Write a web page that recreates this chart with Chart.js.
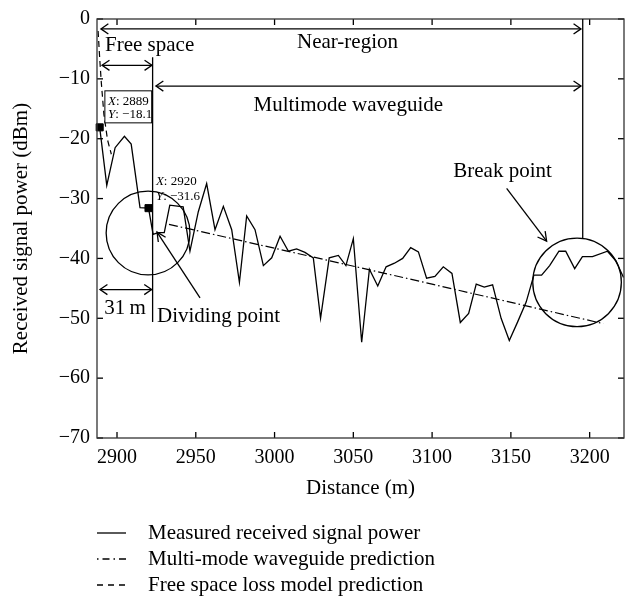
<!DOCTYPE html>
<html>
<head>
<meta charset="utf-8">
<script src="https://cdn.jsdelivr.net/npm/chart.js@4.4.1/dist/chart.umd.min.js"></script>
<style>
  html, body { margin: 0; padding: 0; background: #fff; }
  #wrap { width: 636px; height: 609px; }
</style>
</head>
<body>
<div id="wrap"><canvas id="chart" width="636" height="609"></canvas></div>
<script>
// ----- Data -----
const measuredX = [2889, 2893.5, 2898.8, 2904.7, 2909.0, 2914.6, 2920, 2922.9, 2926.1, 2930.0,
  2933.5, 2942.0, 2946.3, 2951.6, 2956.9, 2962.2, 2967.5, 2972.8, 2977.7, 2982.3,
  2987.6, 2992.9, 2998.2, 3003.5, 3008.8, 3014.0, 3019.3, 3024.6, 3029.2, 3034.7,
  3040.5, 3045.3, 3050.0, 3055.3, 3060.2, 3065.5, 3070.8, 3076.1, 3081.3, 3086.4,
  3091.3, 3096.5, 3101.8, 3107.1, 3112.6, 3117.9, 3123.2, 3128.0, 3133.1, 3138.4,
  3143.8, 3149.0, 3154.3, 3159.7, 3164.6, 3169.5, 3174.6, 3180.5, 3184.8, 3190.5,
  3195.4, 3201.8, 3211.3, 3216.6, 3221.5];
const measuredY = [-18.1, -27.8, -21.5, -19.6, -20.9, -31.5, -31.6, -36.0, -35.7, -35.7,
  -31.1, -31.4, -38.8, -32.2, -27.5, -35.2, -31.3, -35.2, -44.0, -32.9,
  -35.2, -41.2, -39.9, -36.3, -38.8, -38.4, -39.0, -39.9, -50.0, -39.9,
  -39.5, -41.2, -36.7, -54.0, -41.8, -44.6, -41.4, -40.8, -40.0, -38.2,
  -38.9, -43.3, -43.0, -41.4, -42.5, -50.7, -49.2, -44.3, -44.8, -44.4,
  -50.0, -53.7, -50.6, -47.3, -42.8, -42.8, -41.2, -38.8, -38.8, -41.7,
  -39.7, -39.7, -38.8, -40.4, -43.2];

const waveguideX = [2933, 3000, 3100, 3208.7];
const waveguideY = [-34.3, -38.3, -44.3, -50.9];

const freeSpaceX = [2888.0, 2889.0, 2890.0, 2891.7, 2894.0, 2896.4];
const freeSpaceY = [-2.0, -6.5, -10.5, -16.0, -20.2, -22.6];

// data tips (MATLAB style markers)
const tipX = [2889, 2920];
const tipY = [-18.1, -31.6];

const xTicks = [2900, 2950, 3000, 3050, 3100, 3150, 3200];
const yTicks = [-70, -60, -50, -40, -30, -20, -10, 0];

const seriesLabels = [
  'Measured received signal power',
  'Multi-mode waveguide prediction',
  'Free space loss model prediction'
];

const SERIF = "'Liberation Serif', 'DejaVu Serif', serif";

function pts(xs, ys) {
  return xs.map((x, i) => ({ x: x, y: ys[i] }));
}
function minus(v) {
  return String(v).replace('-', '\u2212');
}

// ----- drawing helpers -----
function line(ctx, x1, y1, x2, y2) {
  ctx.beginPath();
  ctx.moveTo(x1, y1);
  ctx.lineTo(x2, y2);
  ctx.stroke();
}
function arrowHead(ctx, x, y, fx, fy, len, spread) {
  const a = Math.atan2(fy - y, fx - x);
  ctx.beginPath();
  ctx.moveTo(x + len * Math.cos(a + spread), y + len * Math.sin(a + spread));
  ctx.lineTo(x, y);
  ctx.lineTo(x + len * Math.cos(a - spread), y + len * Math.sin(a - spread));
  ctx.stroke();
}
function doubleArrow(ctx, x1, x2, y) {
  line(ctx, x1, y, x2, y);
  arrowHead(ctx, x1, y, x2, y, 9, 0.6);
  arrowHead(ctx, x2, y, x1, y, 9, 0.6);
}
function circle(ctx, cx, cy, r) {
  ctx.beginPath();
  ctx.arc(cx, cy, r, 0, Math.PI * 2);
  ctx.stroke();
}
// "X: 2889" with italic X
function tipText(ctx, x, y, letter, value) {
  ctx.font = `italic 13px ${SERIF}`;
  ctx.fillText(letter, x, y);
  const w = ctx.measureText(letter).width;
  ctx.font = `13px ${SERIF}`;
  ctx.fillText(': ' + value, x + w, y);
}

// box, inward ticks, annotations
const annotations = {
  id: 'annotations',
  afterDatasetsDraw(chart) {
    const { ctx, chartArea: a, scales: { x: xs, y: ys } } = chart;
    const X = v => xs.getPixelForValue(v);
    const Y = v => ys.getPixelForValue(v);
    ctx.save();
    ctx.strokeStyle = '#000';
    ctx.fillStyle = '#000';
    ctx.lineWidth = 1.3;
    ctx.setLineDash([]);

    // inward ticks on all four sides
    xTicks.forEach(v => {
      line(ctx, X(v), a.bottom, X(v), a.bottom - 6);
      line(ctx, X(v), a.top, X(v), a.top + 6);
    });
    yTicks.forEach(v => {
      line(ctx, a.left, Y(v), a.left + 6, Y(v));
      line(ctx, a.right, Y(v), a.right - 6, Y(v));
    });
    ctx.strokeStyle = '#333';
    ctx.strokeRect(a.left, a.top, a.right - a.left, a.bottom - a.top);
    ctx.strokeStyle = '#000';

    // region arrows
    doubleArrow(ctx, X(2889.8), X(3194.5), Y(-1.65));   // near-region
    doubleArrow(ctx, X(2890.5), X(2922.2), Y(-7.74));   // free space
    doubleArrow(ctx, X(2924.7), X(3194.5), Y(-11.2));   // multimode
    doubleArrow(ctx, X(2889.2), X(2922.0), Y(-45.2));   // 31 m

    // dividing line and break line
    line(ctx, X(2922.6), Y(-6.37), X(2922.6), Y(-50.6));
    line(ctx, X(3195.6), Y(0), X(3195.6), Y(-36.7));

    // circles
    circle(ctx, X(2919.7), Y(-35.75), Y(-42.75) - Y(-35.75));
    circle(ctx, X(3192.0), Y(-44.0), Y(-51.4) - Y(-44.0));

    // pointer arrows
    line(ctx, X(2952.7), Y(-46.6), X(2925.4), Y(-35.6));
    arrowHead(ctx, X(2925.4), Y(-35.6), X(2952.7), Y(-46.6), 10, 0.45);
    line(ctx, X(3147.3), Y(-28.3), X(3172.7), Y(-37.1));
    arrowHead(ctx, X(3172.7), Y(-37.1), X(3147.3), Y(-28.3), 10, 0.5);

    // labels
    ctx.font = `21px ${SERIF}`;
    ctx.textBaseline = 'middle';
    ctx.textAlign = 'center';
    ctx.fillText('Near-region', X(3046.3), Y(-4.0));
    ctx.fillText('Multimode waveguide', X(3046.8), Y(-14.5));
    ctx.fillText('31\u2009m', X(2905.1), Y(-48.4));
    ctx.fillText('Break point', X(3144.7), Y(-25.5));
    ctx.textAlign = 'left';
    ctx.fillText('Free space', X(2892.4), Y(-4.45));
    ctx.fillText('Dividing point', X(2925.4), Y(-49.75));

    // data tip box for the first marker
    const bx1 = X(2892.3), bx2 = X(2922.0), by1 = Y(-12.0), by2 = Y(-17.35);
    ctx.fillStyle = '#fff';
    ctx.fillRect(bx1, by1, bx2 - bx1, by2 - by1);
    ctx.lineWidth = 1;
    ctx.strokeRect(bx1, by1, bx2 - bx1, by2 - by1);
    ctx.fillStyle = '#000';
    tipText(ctx, X(2894.3), Y(-13.8), 'X', tipX[0]);
    tipText(ctx, X(2894.3), Y(-16.0), 'Y', minus(tipY[0]));
    tipText(ctx, X(2924.7), Y(-27.2), 'X', tipX[1]);
    tipText(ctx, X(2924.7), Y(-29.7), 'Y', minus(tipY[1]));
    ctx.restore();
  },
  afterDraw(chart) {
    // legend below the axes
    const ctx = chart.ctx;
    const rows = [533, 559, 585];
    ctx.save();
    ctx.strokeStyle = '#000';
    ctx.fillStyle = '#000';
    ctx.lineWidth = 1.3;
    ctx.font = `21px ${SERIF}`;
    ctx.textBaseline = 'middle';
    ctx.textAlign = 'left';
    chart.data.datasets.slice(0, 3).forEach((ds, i) => {
      ctx.setLineDash(ds.legendDash);
      line(ctx, 97, rows[i], 126, rows[i]);
      ctx.setLineDash([]);
      ctx.fillText(ds.label, 148, rows[i]);
    });
    ctx.restore();
  }
};

Chart.defaults.font.family = SERIF;
Chart.defaults.color = '#000';

new Chart(document.getElementById('chart'), {
  type: 'scatter',
  data: {
    datasets: [
      {
        label: seriesLabels[0],
        data: pts(measuredX, measuredY),
        showLine: true,
        borderColor: '#000',
        borderWidth: 1.3,
        pointRadius: 0,
        tension: 0,
        legendDash: []
      },
      {
        label: seriesLabels[1],
        data: pts(waveguideX, waveguideY),
        showLine: true,
        borderColor: '#000',
        borderWidth: 1.2,
        borderDash: [9, 3, 1.5, 3],
        pointRadius: 0,
        legendDash: [1.5, 4, 7, 4]
      },
      {
        label: seriesLabels[2],
        data: pts(freeSpaceX, freeSpaceY),
        showLine: true,
        borderColor: '#000',
        borderWidth: 1.2,
        borderDash: [6, 4],
        pointRadius: 0,
        legendDash: [6, 5]
      },
      {
        label: 'Data tips',
        data: pts(tipX, tipY),
        showLine: false,
        pointStyle: 'rect',
        pointRadius: 5,
        backgroundColor: '#000',
        borderColor: '#000',
        clip: false
      }
    ]
  },
  options: {
    responsive: false,
    animation: false,
    devicePixelRatio: 1,
    layout: { padding: { left: 0, right: 12, top: 13, bottom: 105 } },
    plugins: { legend: { display: false }, tooltip: { enabled: false } },
    scales: {
      x: {
        type: 'linear',
        min: 2887.3,
        max: 3221.8,
        grid: { display: false, drawTicks: false },
        border: { display: false },
        afterBuildTicks: s => { s.ticks = xTicks.map(v => ({ value: v })); },
        afterFit: s => { s.height = 66; },
        ticks: { font: { size: 20 }, padding: 8, maxRotation: 0, callback: v => minus(v) },
        title: { display: true, text: 'Distance (m)', font: { size: 21 }, padding: { top: 0, bottom: 3 } }
      },
      y: {
        min: -70,
        max: 0,
        grid: { display: false, drawTicks: false },
        border: { display: false },
        afterBuildTicks: s => { s.ticks = yTicks.map(v => ({ value: v })); },
        afterFit: s => { s.width = 97; },
        ticks: { font: { size: 20 }, padding: 7, callback: v => minus(v) },
        title: { display: true, text: 'Received signal power (dBm)', font: { size: 21 }, padding: { top: 9, bottom: 0 } }
      }
    }
  },
  plugins: [annotations]
});
</script>
</body>
</html>
